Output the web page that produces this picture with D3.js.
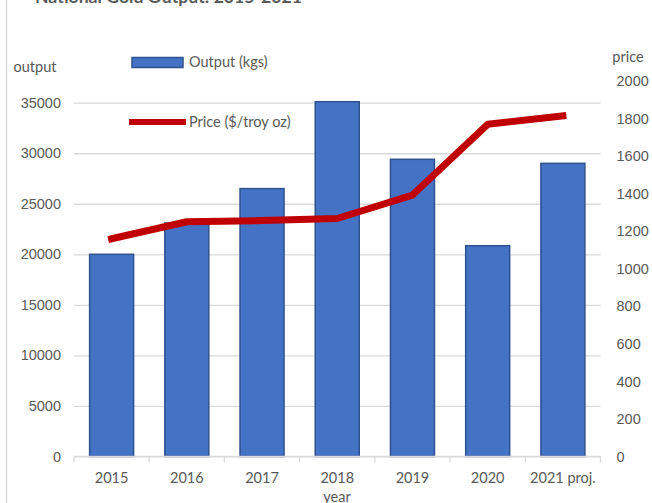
<!DOCTYPE html>
<html>
<head>
<meta charset="utf-8">
<script src="https://cdn.jsdelivr.net/npm/d3@7"></script>
<style>
  body { margin: 0; background: #fff; }
  svg { display: block; font-family: Lato, 'Open Sans', sans-serif; }
</style>
</head>
<body>
<svg id="chart" width="652" height="503"></svg>
<script>
const years = ['2015', '2016', '2017', '2018', '2019', '2020', '2021 proj.'];
const outputKgs = [20000, 23100, 26500, 35100, 29400, 20850, 29000];
const priceOz = [1160, 1251, 1257, 1268, 1393, 1770, 1815];
const outputTicks = [0, 5000, 10000, 15000, 20000, 25000, 30000, 35000];
const priceTicks = [0, 200, 400, 600, 800, 1000, 1200, 1400, 1600, 1800, 2000];

const svg = d3.select('#chart');
const textColor = '#595959';
const gridColor = '#d9d9d9';
const fontSize = 14.5;

const x = d3.scaleBand()
  .domain(years)
  .range([74, 600.5])
  .paddingInner(0.415)
  .paddingOuter(0.2075);

const yLeft = d3.scaleLinear().domain([0, 35000]).range([456.4, 102.7]);
const yRight = d3.scaleLinear().domain([0, 2000]).range([456.4, 81.2]);

// chart area border, only the left edge shows in the crop
svg.append('line')
  .attr('x1', 6.5).attr('x2', 6.5)
  .attr('y1', 0).attr('y2', 503)
  .attr('stroke', gridColor)
  .attr('stroke-width', 1.5);

// title is cut off by the top edge, as in the source image
svg.append('text')
  .attr('x', 35)
  .attr('y', 3)
  .attr('textLength', 267)
  .attr('lengthAdjust', 'spacingAndGlyphs')
  .attr('font-size', 17)
  .attr('font-weight', 'bold')
  .attr('fill', textColor)
  .text('National Gold Output: 2015-2021');

// gridlines + left axis
const left = svg.append('g')
  .attr('transform', 'translate(74,0)')
  .call(d3.axisLeft(yLeft).tickValues(outputTicks).tickSize(-526.5).tickPadding(13).tickFormat(d3.format('d')));
left.select('.domain').remove();
left.selectAll('.tick line').attr('stroke', gridColor).attr('stroke-width', 1.3);
left.selectAll('.tick text').attr('fill', textColor).attr('font-size', fontSize);

const right = svg.append('g')
  .attr('transform', 'translate(600.5,0)')
  .call(d3.axisRight(yRight).tickValues(priceTicks).tickSize(0).tickPadding(16).tickFormat(d3.format('d')));
right.select('.domain').remove();
right.selectAll('.tick text').attr('fill', textColor).attr('font-size', fontSize);

svg.selectAll('.bar')
  .data(outputKgs)
  .enter()
  .append('rect')
  .attr('class', 'bar')
  .attr('x', (d, i) => x(years[i]))
  .attr('width', x.bandwidth())
  .attr('y', d => yLeft(d))
  .attr('height', d => yLeft(0) - yLeft(d))
  .attr('fill', '#4472c4')
  .attr('stroke', '#2f528f')
  .attr('stroke-width', 1.5);

// x axis with ticks between categories
const bottom = svg.append('g')
  .attr('transform', `translate(0,${yLeft(0)})`);
bottom.append('line')
  .attr('x1', 74).attr('x2', 600.5)
  .attr('stroke', gridColor)
  .attr('stroke-width', 1.3);
const step = x.step();
bottom.selectAll('.xtick')
  .data(d3.range(years.length + 1))
  .enter()
  .append('line')
  .attr('x1', i => 74 + i * step)
  .attr('x2', i => 74 + i * step)
  .attr('y1', 0).attr('y2', 6)
  .attr('stroke', gridColor)
  .attr('stroke-width', 1.3);
bottom.selectAll('.xlabel')
  .data(years)
  .enter()
  .append('text')
  .attr('x', d => x(d) + x.bandwidth() / 2)
  .attr('y', 22)
  .attr('dy', '0.35em')
  .attr('text-anchor', 'middle')
  .attr('font-size', fontSize)
  .attr('fill', textColor)
  .text(d => d);

const line = d3.line()
  .x((d, i) => x(years[i]) + x.bandwidth() / 2)
  .y(d => yRight(d));

svg.append('path')
  .datum(priceOz)
  .attr('d', line)
  .attr('fill', 'none')
  .attr('stroke', '#c00000')
  .attr('stroke-width', 7)
  .attr('stroke-linejoin', 'round')
  .attr('stroke-linecap', 'square');

// axis titles ("year" sits at the bottom edge, partly cut like the source)
svg.append('text')
  .attr('x', 35).attr('y', 67).attr('dy', '0.35em')
  .attr('text-anchor', 'middle').attr('font-size', fontSize).attr('fill', textColor)
  .text('output');
svg.append('text')
  .attr('x', 628).attr('y', 57).attr('dy', '0.35em')
  .attr('text-anchor', 'middle').attr('font-size', fontSize).attr('fill', textColor)
  .text('price');
svg.append('text')
  .attr('x', 337).attr('y', 497).attr('dy', '0.35em')
  .attr('text-anchor', 'middle').attr('font-size', fontSize).attr('fill', textColor)
  .text('year');

// legend
svg.append('rect')
  .attr('x', 132).attr('y', 57.5)
  .attr('width', 51).attr('height', 10)
  .attr('fill', '#4472c4')
  .attr('stroke', '#2f528f')
  .attr('stroke-width', 1.5);
svg.append('text')
  .attr('x', 189).attr('y', 62).attr('dy', '0.35em')
  .attr('font-size', fontSize).attr('fill', textColor)
  .text('Output (kgs)');
svg.append('line')
  .attr('x1', 129).attr('x2', 186)
  .attr('y1', 122).attr('y2', 122)
  .attr('stroke', '#c00000')
  .attr('stroke-width', 6);
svg.append('text')
  .attr('x', 189).attr('y', 122).attr('dy', '0.35em')
  .attr('font-size', fontSize).attr('fill', textColor)
  .text('Price ($/troy oz)');
</script>
</body>
</html>
